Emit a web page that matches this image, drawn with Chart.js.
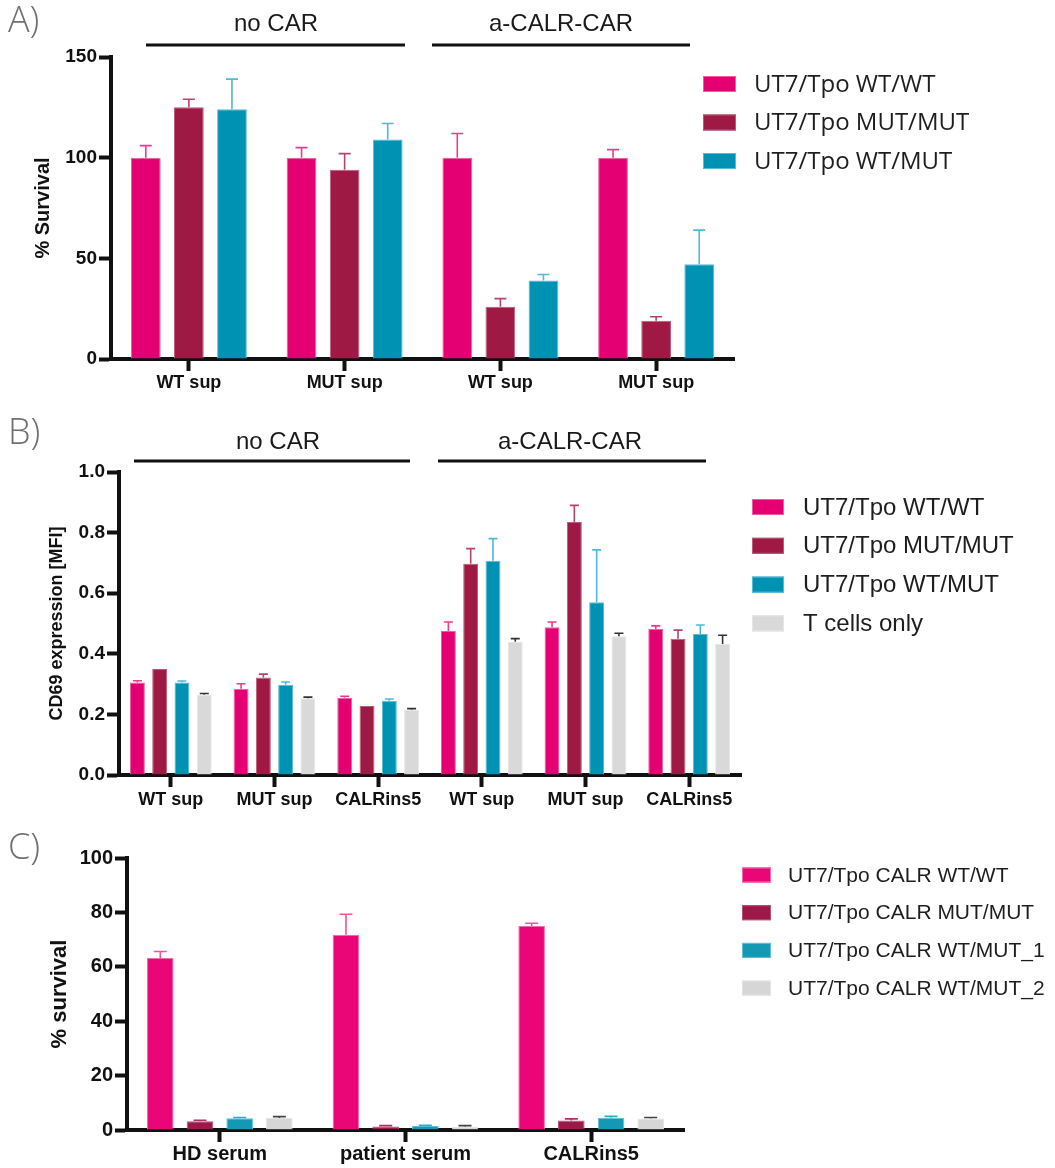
<!DOCTYPE html>
<html><head><meta charset="utf-8">
<script src="https://cdn.jsdelivr.net/npm/chart.js@4.4.0/dist/chart.umd.min.js"></script>
<style>
html,body{margin:0;padding:0;background:#fff;}
#wrap{position:relative;width:1055px;height:1168px;overflow:hidden;}
.panel{position:absolute;left:0;width:1055px;}
</style></head><body>
<div id="wrap">
<div class="panel" style="top:0;height:400px"><canvas id="cA"></canvas></div>
<div class="panel" style="top:400px;height:420px"><canvas id="cB"></canvas></div>
<div class="panel" style="top:820px;height:348px"><canvas id="cC"></canvas></div>
</div>
<script>
// ---------- Panel A data ----------
const categoriesA = ['WT sup', 'MUT sup', 'WT sup', 'MUT sup'];
const labelsA = ['UT7/Tpo WT/WT', 'UT7/Tpo MUT/MUT', 'UT7/Tpo WT/MUT'];
const wtwtA = [100, 100, 100, 100];
const mutmutA = [125, 94, 26, 19];
const wtmutA = [124, 109, 39, 47];
const wtwtErrA = [6, 5, 12, 4];
const mutmutErrA = [4, 8, 4, 2];
const wtmutErrA = [15, 8, 3, 17];
const ticksA = [0, 50, 100, 150];

// ---------- Panel B data ----------
const categoriesB = ['WT sup', 'MUT sup', 'CALRins5', 'WT sup', 'MUT sup', 'CALRins5'];
const labelsB = ['UT7/Tpo WT/WT', 'UT7/Tpo MUT/MUT', 'UT7/Tpo WT/MUT', 'T cells only'];
const wtwtB = [0.305, 0.285, 0.255, 0.475, 0.488, 0.482];
const mutmutB = [0.350, 0.322, 0.228, 0.697, 0.835, 0.450];
const wtmutB = [0.305, 0.298, 0.245, 0.707, 0.570, 0.465];
const tcellB = [0.265, 0.253, 0.215, 0.440, 0.458, 0.432];
const wtwtErrB = [0.006, 0.016, 0.005, 0.030, 0.017, 0.010];
const mutmutErrB = [0, 0.011, 0, 0.050, 0.055, 0.028];
const wtmutErrB = [0.005, 0.009, 0.006, 0.073, 0.173, 0.030];
const tcellErrB = [0.004, 0.004, 0.004, 0.010, 0.010, 0.029];
const ticksB = [0, 0.2, 0.4, 0.6, 0.8, 1.0];

// ---------- Panel C data ----------
const categoriesC = ['HD serum', 'patient serum', 'CALRins5'];
const labelsC = ['UT7/Tpo CALR WT/WT', 'UT7/Tpo CALR MUT/MUT', 'UT7/Tpo CALR WT/MUT_1', 'UT7/Tpo CALR WT/MUT_2'];
const wtwtC = [63.2, 71.8, 75.0];
const mutmutC = [3.2, 1.3, 3.5];
const wtmut1C = [4.3, 1.5, 4.5];
const wtmut2C = [4.4, 1.2, 4.2];
const wtwtErrC = [2.4, 7.5, 1.0];
const mutmutErrC = [0.4, 0.3, 0.6];
const wtmut1ErrC = [0.3, 0.2, 0.5];
const wtmut2ErrC = [0.5, 0.4, 0.4];
const ticksC = [0, 20, 40, 60, 80, 100];

// ---------- plugins ----------
const errorBars = {
  id: 'errorBars',
  afterDatasetsDraw(chart, args, opts) {
    const ctx = chart.ctx;
    const yScale = chart.scales.y;
    chart.data.datasets.forEach((ds, di) => {
      const meta = chart.getDatasetMeta(di);
      if (!ds.errors) return;
      meta.data.forEach((bar, i) => {
        const e = ds.errors[i];
        if (!e) return;
        const v = ds.data[i];
        const yTop = yScale.getPixelForValue(v + e);
        ctx.save();
        ctx.strokeStyle = ds.errorColor;
        ctx.lineWidth = opts.lineWidth || 1.5;
        ctx.beginPath();
        ctx.moveTo(bar.x, bar.y);
        ctx.lineTo(bar.x, yTop);
        const cw = (opts.capWidth || 12) / 2;
        ctx.moveTo(bar.x - cw, yTop);
        ctx.lineTo(bar.x + cw, yTop);
        ctx.stroke();
        ctx.restore();
      });
    });
  }
};

const decorations = {
  id: 'decorations',
  afterDraw(chart, args, opts) {
    const ctx = chart.ctx;
    ctx.save();
    if (opts.panel) {
      ctx.font = opts.panel.font;
      ctx.fillStyle = opts.panel.color;
      ctx.textAlign = 'left';
      ctx.textBaseline = 'middle';
      ctx.fillText(opts.panel.text, opts.panel.x, opts.panel.y);
    }
    (opts.headers || []).forEach(h => {
      ctx.font = opts.headerFont;
      ctx.fillStyle = '#1a1a1a';
      ctx.textAlign = 'center';
      ctx.textBaseline = 'middle';
      ctx.fillText(h.text, h.tx, h.ty);
      ctx.strokeStyle = '#111';
      ctx.lineWidth = 3;
      ctx.beginPath();
      ctx.moveTo(h.x1, h.ly);
      ctx.lineTo(h.x2, h.ly);
      ctx.stroke();
    });
    const lg = opts.legend;
    if (lg) {
      chart.data.datasets.forEach((ds, i) => {
        const cy = lg.y0 + i * lg.dy;
        ctx.fillStyle = ds.backgroundColor;
        ctx.fillRect(lg.boxX, cy - lg.boxH / 2, lg.boxW, lg.boxH);
        ctx.strokeStyle = ds.borderColor;
        ctx.lineWidth = 1;
        ctx.strokeRect(lg.boxX + 0.5, cy - lg.boxH / 2 + 0.5, lg.boxW - 1, lg.boxH - 1);
        ctx.fillStyle = '#1e1e1e';
        ctx.font = lg.font;
        ctx.textAlign = 'left';
        ctx.textBaseline = 'middle';
        ctx.fillText(ds.label, lg.textX, cy + 1);
      });
    }
    ctx.restore();
  }
};

function makeChart(id, cfg) {
  const {cats, sets, ticks, yMax, fmt, axisLeft, axisRight, axisTop, axisBottom, canvasH,
         padLeft, xFont, yFont, xPad, titleText, titleFont, catPct, barPct, cap, deco} = cfg;
  return new Chart(document.getElementById(id), {
    type: 'bar',
    data: {
      labels: cats,
      datasets: sets.map(s => ({
        label: s.label, data: s.data, errors: s.err,
        backgroundColor: s.color, borderColor: s.border, borderWidth: 1,
        errorColor: s.errColor,
        categoryPercentage: catPct, barPercentage: barPct
      }))
    },
    options: {
      responsive: true, maintainAspectRatio: false, animation: false,
      events: [],
      layout: { padding: { left: padLeft, top: axisTop, right: 1055 - axisRight, bottom: 0 } },
      plugins: {
        legend: { display: false }, tooltip: { enabled: false },
        errorBars: { capWidth: cap, lineWidth: 1.6 },
        decorations: deco
      },
      scales: {
        x: {
          offset: true,
          grid: { offset: false, drawOnChartArea: false, tickLength: 12, tickWidth: 4, tickColor: '#111' },
          border: { display: true, width: 4, color: '#111' },
          ticks: { font: xFont, color: '#111', padding: xPad, maxRotation: 0, autoSkip: false },
          afterFit(s) { s.height = canvasH - axisBottom; }
        },
        y: {
          min: 0, max: yMax,
          grid: { drawOnChartArea: false, tickLength: 12, tickWidth: 4, tickColor: '#111' },
          border: { display: true, width: 4, color: '#111' },
          ticks: { font: yFont, color: '#111', padding: 2, callback: v => fmt(v) },
          afterBuildTicks(s) { s.ticks = ticks.map(v => ({ value: v })); },
          title: { display: true, text: titleText, font: titleFont, color: '#111', padding: 0 },
          afterFit(s) { s.width = axisLeft - padLeft; }
        }
      }
    },
    plugins: [errorBars, decorations]
  });
}

const pink = '#E40073', maroon = '#9E1A44', teal = '#0092B3', grey = '#D9D9D9';
const sansBold = size => ({ family: "'Liberation Sans', Arial, sans-serif", size: size, weight: 'bold' });

makeChart('cA', {
  cats: categoriesA,
  sets: [
    { label: labelsA[0], data: wtwtA, err: wtwtErrA, color: pink, border: '#EE5C9E', errColor: '#EA3D8C' },
    { label: labelsA[1], data: mutmutA, err: mutmutErrA, color: maroon, border: '#BC5A7A', errColor: '#B5436A' },
    { label: labelsA[2], data: wtmutA, err: wtmutErrA, color: teal, border: '#56BCD4', errColor: '#4DBAD6' }
  ],
  ticks: ticksA, yMax: 150, fmt: v => String(v),
  axisLeft: 111, axisRight: 734, axisTop: 57, axisBottom: 359, canvasH: 400, padLeft: 31,
  xFont: sansBold(18), yFont: sansBold(19), xPad: 1,
  titleText: '% Survival', titleFont: sansBold(20),
  catPct: 0.83, barPct: 0.69, cap: 12,
  deco: {
    panel: { text: 'A)', x: 8, y: 22, font: "300 36px 'Open Sans', 'Noto Sans', sans-serif", color: '#707070' },
    headerFont: "24px 'Liberation Sans', Arial, sans-serif",
    headers: [
      { text: 'no CAR', tx: 276, ty: 24, x1: 146, x2: 405, ly: 45 },
      { text: 'a-CALR-CAR', tx: 561, ty: 24, x1: 432, x2: 690, ly: 45 }
    ],
    legend: { boxX: 703, boxW: 33, boxH: 16, y0: 84, dy: 38.5, textX: 754, font: "24px 'Open Sans', 'Noto Sans', sans-serif" }
  }
});

makeChart('cB', {
  cats: categoriesB,
  sets: [
    { label: labelsB[0], data: wtwtB, err: wtwtErrB, color: pink, border: '#EE5C9E', errColor: '#EA3D8C' },
    { label: labelsB[1], data: mutmutB, err: mutmutErrB, color: maroon, border: '#BC5A7A', errColor: '#B5436A' },
    { label: labelsB[2], data: wtmutB, err: wtmutErrB, color: teal, border: '#56BCD4', errColor: '#4DBAD6' },
    { label: labelsB[3], data: tcellB, err: tcellErrB, color: grey, border: '#E6E6E6', errColor: '#333333' }
  ],
  ticks: ticksB, yMax: 1.0, fmt: v => v.toFixed(1),
  axisLeft: 119, axisRight: 741, axisTop: 72, axisBottom: 375, canvasH: 420, padLeft: 46,
  xFont: sansBold(18), yFont: sansBold(19), xPad: 2,
  titleText: 'CD69 expression [MFI]', titleFont: sansBold(18),
  catPct: 0.86, barPct: 0.67, cap: 9,
  deco: {
    panel: { text: 'B)', x: 8, y: 34, font: "300 36px 'Open Sans', 'Noto Sans', sans-serif", color: '#707070' },
    headerFont: "24px 'Liberation Sans', Arial, sans-serif",
    headers: [
      { text: 'no CAR', tx: 278, ty: 42, x1: 134, x2: 410, ly: 61 },
      { text: 'a-CALR-CAR', tx: 570, ty: 42, x1: 438, x2: 706, ly: 61 }
    ],
    legend: { boxX: 752, boxW: 32, boxH: 16, y0: 107, dy: 38.8, textX: 803, font: "24px 'Liberation Sans', Arial, sans-serif" }
  }
});

makeChart('cC', {
  cats: categoriesC,
  sets: [
    { label: labelsC[0], data: wtwtC, err: wtwtErrC, color: '#EB0678', border: '#F46AAB', errColor: '#F0559C' },
    { label: labelsC[1], data: mutmutC, err: mutmutErrC, color: '#9C1848', border: '#B84F75', errColor: '#B03060' },
    { label: labelsC[2], data: wtmut1C, err: wtmut1ErrC, color: '#1598B4', border: '#5FC0D6', errColor: '#2AAACB' },
    { label: labelsC[3], data: wtmut2C, err: wtmut2ErrC, color: '#D6D6D6', border: '#E4E4E4', errColor: '#444444' }
  ],
  ticks: ticksC, yMax: 100, fmt: v => String(v),
  axisLeft: 127, axisRight: 684, axisTop: 38, axisBottom: 310, canvasH: 348, padLeft: 47,
  xFont: sansBold(20), yFont: sansBold(20), xPad: 0,
  titleText: '% survival', titleFont: sansBold(22),
  catPct: 0.855, barPct: 0.67, cap: 13,
  deco: {
    panel: { text: 'C)', x: 8, y: 29, font: "300 36px 'Open Sans', 'Noto Sans', sans-serif", color: '#707070' },
    headers: [],
    legend: { boxX: 742, boxW: 29, boxH: 15, y0: 55, dy: 37.7, textX: 788, font: "21px 'Liberation Sans', Arial, sans-serif" }
  }
});
</script>
</body></html>
